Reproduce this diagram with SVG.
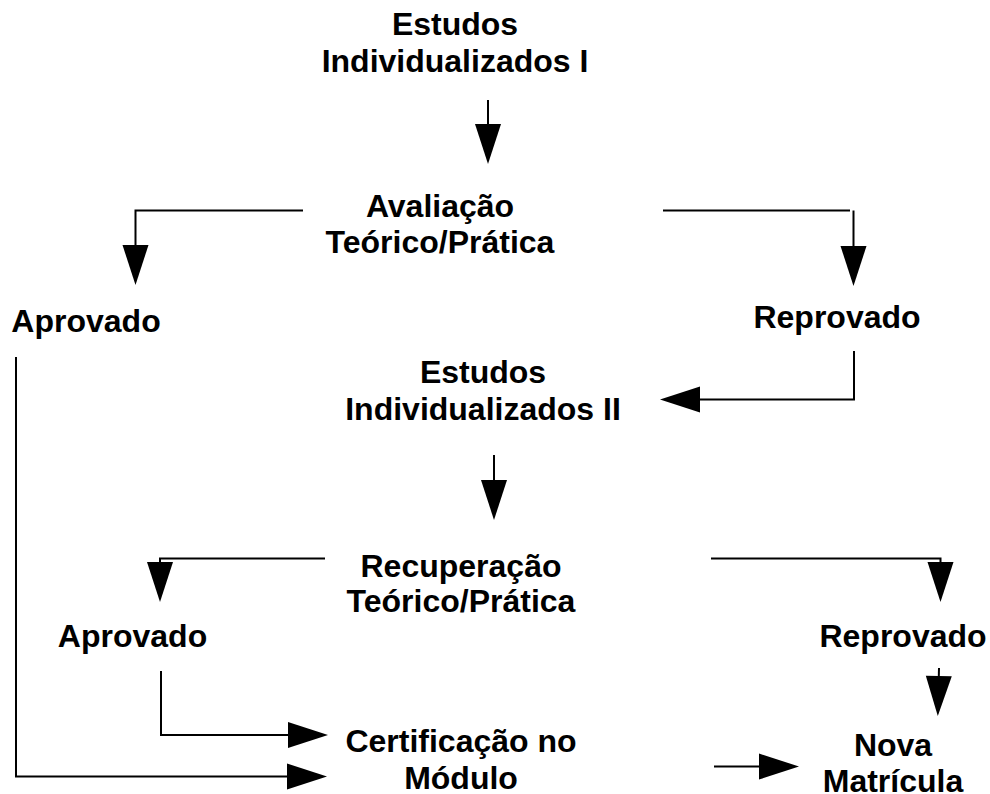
<svg xmlns="http://www.w3.org/2000/svg" width="990" height="794" viewBox="0 0 990 794">
<defs>
<marker id="ah" markerUnits="userSpaceOnUse" markerWidth="40" markerHeight="26" refX="0" refY="13" orient="auto" overflow="visible">
<path d="M0,0 L40,13 L0,26 Z" fill="#000"/>
</marker>
<style>
text{font-family:"Liberation Sans",Arial,sans-serif;font-weight:bold;font-size:32px;fill:#000;text-anchor:middle}
.c{fill:none;stroke:#000;stroke-width:2}
.a{marker-end:url(#ah)}
</style>
</defs>
<rect width="990" height="794" fill="#fff"/>
<g id="connectors">
<path class="c a" d="M488,100 V124"/>
<path class="c a" d="M303,210.5 H135.5 V245"/>
<path class="c" d="M663,210.5 H850"/>
<path class="c a" d="M853.5,210.5 V246"/>
<path class="c a" d="M854,351 V399.5 H700"/>
<path class="c a" d="M494,455 V480"/>
<path class="c a" d="M325,558.5 H160 V562"/>
<path class="c a" d="M711,558.5 H940.5 V562"/>
<path class="c a" d="M939,668 L938.8,676"/>
<path class="c a" d="M161,671 V735 H288"/>
<path class="c a" d="M16,357 V776.5 H287"/>
<path class="c a" d="M714,766.5 H759"/>
</g>
<g id="n1"><text x="455" y="35">Estudos</text><text x="455" y="72">Individualizados I</text></g>
<g id="n2"><text x="440" y="217">Avaliação</text><text x="440" y="253">Teórico/Prática</text></g>
<g id="n3"><text x="86" y="332">Aprovado</text></g>
<g id="n4"><text x="837" y="328">Reprovado</text></g>
<g id="n5"><text x="483" y="383">Estudos</text><text x="483" y="420">Individualizados II</text></g>
<g id="n6"><text x="461" y="577">Recuperação</text><text x="461" y="612">Teórico/Prática</text></g>
<g id="n7"><text x="132.5" y="647">Aprovado</text></g>
<g id="n8"><text x="903" y="647">Reprovado</text></g>
<g id="n9"><text x="461" y="752">Certificação no</text><text x="461" y="789">Módulo</text></g>
<g id="n10"><text x="893" y="756">Nova</text><text x="893" y="792">Matrícula</text></g>
</svg>
